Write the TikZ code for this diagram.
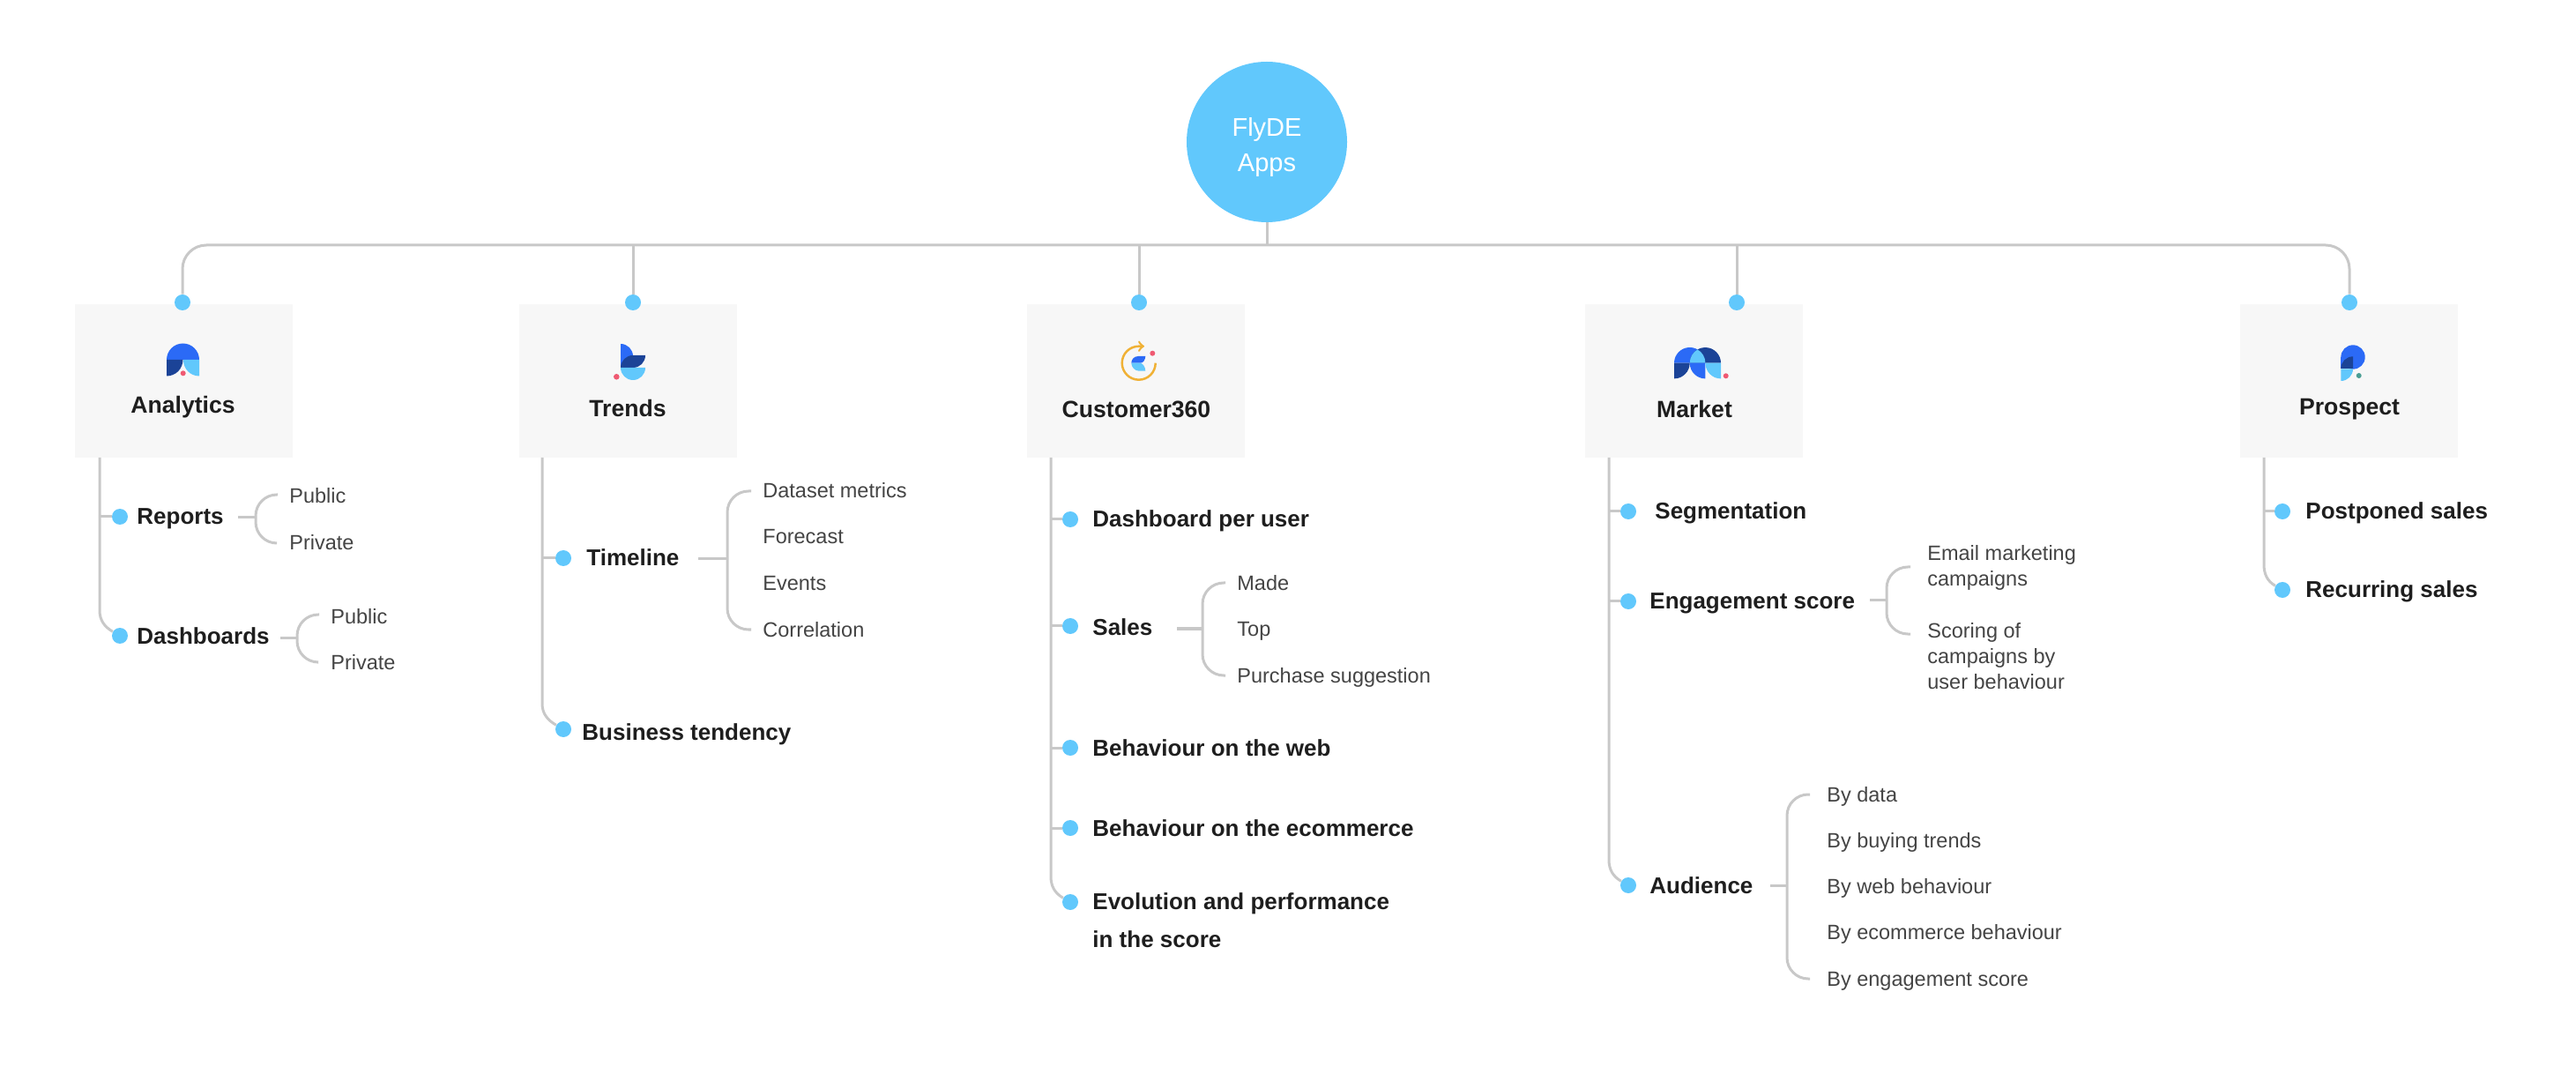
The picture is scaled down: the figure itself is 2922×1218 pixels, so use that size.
\documentclass[tikz,border=0pt]{standalone}
\usepackage{fontspec}
\setmainfont{Liberation Sans}
\usetikzlibrary{calc}
\definecolor{dotblue}{HTML}{61C8FC}
\definecolor{linegray}{HTML}{C8C8C8}
\definecolor{boxgray}{HTML}{F7F7F7}
\definecolor{textdark}{HTML}{1E1E1E}
\definecolor{textsoft}{HTML}{444444}
\definecolor{iconblue}{HTML}{2B6AF6}
\definecolor{icondark}{HTML}{1B4397}
\definecolor{iconred}{HTML}{EF5A72}
\definecolor{iconteal}{HTML}{4A9E94}
\definecolor{iconorange}{HTML}{F0B135}

\begin{document}
\begin{tikzpicture}[x=0.5pt, y=0.5pt]
% Define styles
\tikzstyle{rootnode} = [circle, minimum size=91pt, inner sep=0pt, fill=dotblue]
\tikzstyle{roottext} = [inner sep=0pt, text=white, align=center, font=\fontsize{14.5}{20}\selectfont]
\tikzstyle{appbox} = [rectangle, minimum width=123.5pt, minimum height=87pt, inner sep=0pt, fill=boxgray]
\tikzstyle{applabel} = [inner sep=0pt, text=textdark, font=\fontsize{13.3}{16}\selectfont\bfseries]
\tikzstyle{bluedot} = [circle, minimum size=9pt, inner sep=0pt, fill=dotblue]
\tikzstyle{item} = [anchor=west, inner sep=0pt, text height=12pt, text depth=3pt, text=textdark, font=\fontsize{13}{21.5}\selectfont\bfseries]
\tikzstyle{itemtwo} = [anchor=west, inner sep=0pt, align=left, text=textdark, font=\fontsize{13}{21.5}\selectfont\bfseries]
\tikzstyle{subitem} = [anchor=west, inner sep=0pt, text height=10.5pt, text depth=2.5pt, text=textsoft, font=\fontsize{11.75}{14.5}\selectfont]
\tikzstyle{subitemtwo} = [anchor=west, inner sep=0pt, align=left, text=textsoft, font=\fontsize{11.75}{14.5}\selectfont]
\tikzstyle{link} = [draw=linegray, line width=1.5pt]
\useasboundingbox (0,0) rectangle (2922,-1218);
% Place nodes
\node (root) [rootnode] at (1437,-161) {};
\node (rootText) [roottext] at (1437,-167) {FlyDE\\Apps};
\coordinate (bus) at (1437,-278);
\node (aBox) [appbox] at (208.5,-432) {};
\node (tBox) [appbox] at (712.5,-432) {};
\node (cBox) [appbox] at (1288.5,-432) {};
\node (mBox) [appbox] at (1921.5,-432) {};
\node (pBox) [appbox] at (2664,-432) {};
\node (aDot) [bluedot] at (207,-343) {};
\node (tDot) [bluedot] at (718,-343) {};
\node (cDot) [bluedot] at (1292,-343) {};
\node (mDot) [bluedot] at (1970,-343) {};
\node (pDot) [bluedot] at (2665,-343) {};
\node (aLabel) [applabel] at (207.5,-462) {Analytics};
\node (tLabel) [applabel] at (712,-463) {Trends};
\node (cLabel) [applabel] at (1289,-464) {Customer360};
\node (mLabel) [applabel] at (1922,-464) {Market};
\node (pLabel) [applabel] at (2665,-464) {Prospect};
% Analytics
\coordinate (aTop) at (113,-519);
\coordinate (aBend) at (113,-692);
\node (rDot) [bluedot] at (136,-586) {};
\node (dDot) [bluedot] at (136,-721) {};
\node (rText) [item] at (155,-586) {Reports};
\node (dText) [item] at (155,-722) {Dashboards};
\coordinate (rStub) at (270,-587);
\coordinate (rFork) at (290,-587);
\node (rPub) [subitem] at (328,-563) {Public};
\node (rPriv) [subitem] at (328,-616) {Private};
\coordinate (dStub) at (318,-723);
\coordinate (dFork) at (337,-723);
\node (dPub) [subitem] at (375,-699) {Public};
\node (dPriv) [subitem] at (375,-751) {Private};
% Trends
\coordinate (tTop) at (615,-519);
\coordinate (tBend) at (615,-798);
\node (lDot) [bluedot] at (639,-633) {};
\node (bDot) [bluedot] at (639,-827) {};
\node (lText) [item] at (665,-633) {Timeline};
\node (bText) [item] at (660,-830) {Business tendency};
\coordinate (lStub) at (792,-634);
\coordinate (lFork) at (825,-634);
\node (lSub1) [subitem] at (865,-557) {Dataset metrics};
\node (lSub2) [subitem] at (865,-609) {Forecast};
\node (lSub3) [subitem] at (865,-662) {Events};
\node (lSub4) [subitem] at (865,-714) {Correlation};
% Customer360
\coordinate (cTop) at (1192,-519);
\coordinate (cBend) at (1192,-994);
\node (uDot) [bluedot] at (1214,-589) {};
\node (sDot) [bluedot] at (1214,-710) {};
\node (wDot) [bluedot] at (1214,-848) {};
\node (eDot) [bluedot] at (1214,-939) {};
\node (vDot) [bluedot] at (1214,-1023) {};
\node (uText) [item] at (1239,-589) {Dashboard per user};
\node (sText) [item] at (1239,-711) {Sales};
\node (wText) [item] at (1239,-848) {Behaviour on the web};
\node (eText) [item] at (1239,-939) {Behaviour on the ecommerce};
\node (vText) [itemtwo] at (1239,-1044) {Evolution and performance\\in the score};
\coordinate (sStub) at (1335,-713);
\coordinate (sFork) at (1364,-713);
\node (sSub1) [subitem] at (1403,-661) {Made};
\node (sSub2) [subitem] at (1403,-713) {Top};
\node (sSub3) [subitem] at (1403,-766) {Purchase suggestion};
% Market
\coordinate (mTop) at (1825,-519);
\coordinate (mBend) at (1825,-975);
\node (gDot) [bluedot] at (1847,-580) {};
\node (nDot) [bluedot] at (1847,-682) {};
\node (oDot) [bluedot] at (1847,-1004) {};
\node (gText) [item] at (1877,-580) {Segmentation};
\node (nText) [item] at (1871,-681) {Engagement score};
\node (oText) [item] at (1871,-1004) {Audience};
\coordinate (nStub) at (2121,-681);
\coordinate (nFork) at (2140,-681);
\coordinate (nTip1) at (2167,-643);
\coordinate (nTip2) at (2167,-719);
\node (nSub1) [subitemtwo] at (2186,-644) {Email marketing\\campaigns};
\node (nSub2) [subitemtwo] at (2186,-744) {Scoring of\\campaigns by\\user behaviour};
\coordinate (oStub) at (2008,-1004);
\coordinate (oFork) at (2027,-1004);
\node (oSub1) [subitem] at (2072,-901) {By data};
\node (oSub2) [subitem] at (2072,-953) {By buying trends};
\node (oSub3) [subitem] at (2072,-1005) {By web behaviour};
\node (oSub4) [subitem] at (2072,-1057) {By ecommerce behaviour};
\node (oSub5) [subitem] at (2072,-1110) {By engagement score};
% Prospect
\coordinate (pTop) at (2568,-519);
\coordinate (pBend) at (2568,-640);
\node (qDot) [bluedot] at (2589,-580) {};
\node (fDot) [bluedot] at (2589,-669) {};
\node (qText) [item] at (2615,-580) {Postponed sales};
\node (fText) [item] at (2615,-669) {Recurring sales};
% Draw lines
\draw [link] (root) -- (bus);
\draw [link, rounded corners=13.5pt] (aDot) |- (bus) -| (pDot);
\draw [link] (bus -| tDot) -- (tDot);
\draw [link] (bus -| cDot) -- (cDot);
\draw [link] (bus -| mDot) -- (mDot);
\draw [link] (aTop) -- (aBend) to [out=270, in=150] (dDot);
\draw [link] (aTop |- rDot) -- (rDot);
\draw [link] (rStub) -- (rFork);
\draw [link, rounded corners=12pt] ($(rPub.west)+(-13,2)$) -| (rFork) (rFork) |- ($(rPriv.west)+(-15,0)$);
\draw [link] (dStub) -- (dFork);
\draw [link, rounded corners=12pt] ($(dPub.west)+(-13,2)$) -| (dFork) (dFork) |- ($(dPriv.west)+(-15,0)$);
\draw [link] (tTop) -- (tBend) to [out=270, in=150] (bDot);
\draw [link] (tTop |- lDot) -- (lDot);
\draw [link] (lStub) -- (lFork);
\draw [link, rounded corners=12pt] ($(lSub1.west)+(-13,0)$) -| (lFork) (lFork) |- ($(lSub4.west)+(-13,0)$);
\draw [link] (cTop) -- (cBend) to [out=270, in=150] (vDot);
\draw [link] (cTop |- uDot) -- (uDot);
\draw [link] (cTop |- sDot) -- (sDot);
\draw [link] (cTop |- wDot) -- (wDot);
\draw [link] (cTop |- eDot) -- (eDot);
\draw [link] (sStub) -- (sFork);
\draw [link, rounded corners=12pt] ($(sSub1.west)+(-13,0)$) -| (sFork) (sFork) |- ($(sSub3.west)+(-13,0)$);
\draw [link] (mTop) -- (mBend) to [out=270, in=150] (oDot);
\draw [link] (mTop |- gDot) -- (gDot);
\draw [link] (mTop |- nDot) -- (nDot);
\draw [link] (nStub) -- (nFork);
\draw [link, rounded corners=12pt] (nTip1) -| (nFork) (nFork) |- (nTip2);
\draw [link] (oStub) -- (oFork);
\draw [link, rounded corners=12pt] ($(oSub1.west)+(-19,0)$) -| (oFork) (oFork) |- ($(oSub5.west)+(-19,0)$);
\draw [link] (pTop) -- (pBend) to [out=270, in=150] (fDot);
\draw [link] (pTop |- qDot) -- (qDot);
% Draw icons
\fill [iconblue] (189,-408) arc (180:0:18.5) -- cycle;
\fill [icondark] (189,-408) -- (207.5,-408) arc (0:-90:18.5) -- cycle;
\fill [dotblue] (208,-408) -- (226,-408) -- (226,-426.5) arc (270:180:18) -- cycle;
\fill [iconred] (207.7,-423.3) circle (3);
\fill [iconblue] (704,-390) arc (90:0:14) -- (718,-417) -- (704,-417) -- cycle;
\fill [icondark] (704,-417) arc (180:90:14) -- (732,-403) arc (0:-90:14) -- cycle;
\fill [dotblue] (704,-417) -- (732,-417) arc (0:-180:14) -- cycle;
\fill [iconred] (699.3,-427.3) circle (3.3);
\draw [iconorange, line width=1.25pt, ->, >=to] (1310.7,-411.7) arc (0:-270:19) -- (1298,-392.7);
\fill [iconblue] (1299.3,-404) -- (1291,-404) .. controls (1286,-404) and (1283.3,-408) .. (1283.3,-411.7) -- (1293.3,-411.7) .. controls (1297,-411.7) and (1299,-408) .. cycle;
\fill [dotblue] (1283.3,-411.7) -- (1293.3,-411.7) .. controls (1296,-411.7) and (1299.3,-416) .. (1299.3,-420.7) -- (1292,-420.7) .. controls (1287,-420.7) and (1283.3,-416) .. cycle;
\fill [iconred] (1307.3,-400.7) circle (3);
\fill [iconblue] (1899,-411.7) arc (180:0:17.7) -- cycle;
\fill [icondark] (1916.7,-411.7) arc (180:0:17.65) -- cycle;
\fill [dotblue] (1916.7,-411.7) arc (180:120:17.7) arc (60:0:17.7) -- cycle;
\fill [icondark] (1899,-411.7) -- (1916.7,-411.7) arc (0:-90:17.7) -- cycle;
\fill [iconblue] (1916.7,-411.7) -- (1934.4,-411.7) -- (1934.4,-429.4) arc (270:180:17.7) -- cycle;
\fill [dotblue] (1934.4,-411.7) -- (1952,-411.7) -- (1952,-429.4) arc (270:180:17.6) -- cycle;
\fill [iconred] (1957.7,-426.3) circle (3);
\fill [iconblue] (2669,-405) circle (13.7);
\fill [iconblue] (2655.3,-405) rectangle (2669,-418.3);
\fill [icondark] (2669,-404.3) arc (90:180:13.7) -- (2669,-418) -- cycle;
\fill [dotblue] (2655.3,-418.3) -- (2669,-418.3) arc (0:-90:13.7) -- cycle;
\fill [iconteal] (2675.7,-426) circle (3);
\end{tikzpicture}
\end{document}
